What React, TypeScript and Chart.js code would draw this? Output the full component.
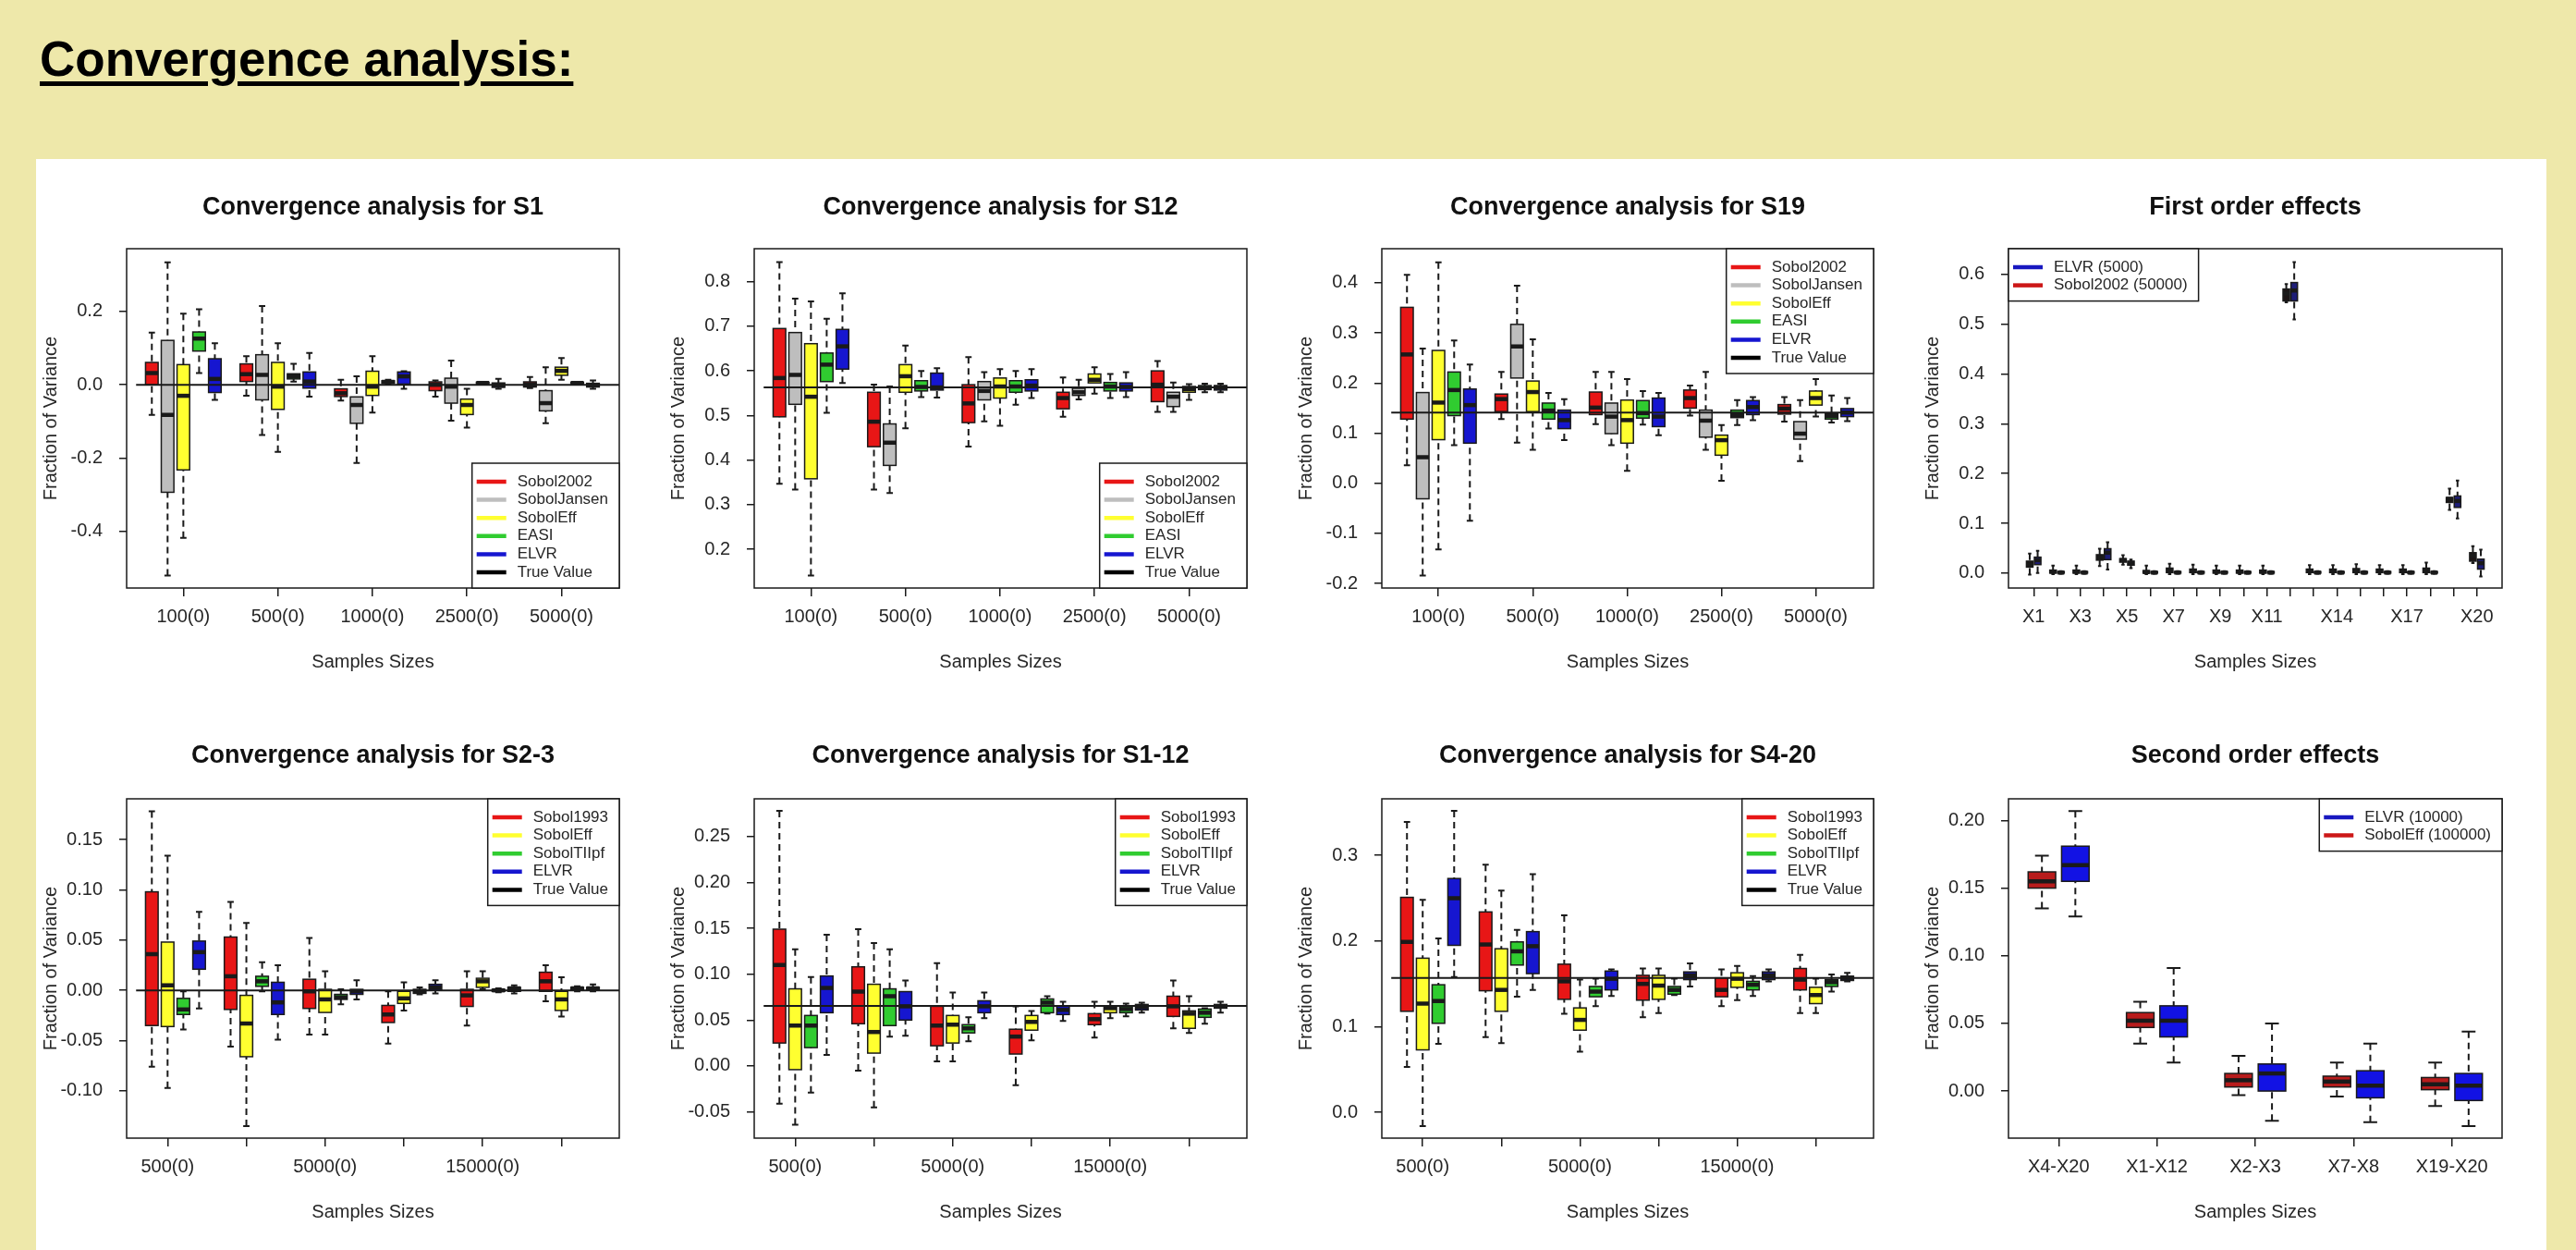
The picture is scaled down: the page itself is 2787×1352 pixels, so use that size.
import React, { useEffect, useRef } from "react";
import { Chart, registerables } from "chart.js";
Chart.register(...registerables);

const FONT = "'Liberation Sans', Arial, Helvetica, sans-serif";
const INK = "#1a1a1a";
const TXT = "#262626";

const RED = "#E81616";
const GRAY = "#BEBEBE";
const YELLOW = "#FFFF30";
const GREEN = "#30CC30";
const BLUE = "#1616D0";
const BLACK = "#000000";

// ---------- tick labels ----------
const TOP_X_LABELS = ["100(0)", "500(0)", "1000(0)", "2500(0)", "5000(0)"];
const BOTTOM_X_LABELS = ["500(0)", "", "5000(0)", "", "15000(0)", ""];
const FO_X_LABELS = ["X1", "", "X3", "", "X5", "", "X7", "", "X9", "", "X11", "", "", "X14", "", "", "X17", "", "", "X20"];
const SO_X_LABELS = ["X4-X20", "X1-X12", "X2-X3", "X7-X8", "X19-X20"];

const Y_S1 = [-0.4, -0.2, 0, 0.2];
const Y_S12 = [0.2, 0.3, 0.4, 0.5, 0.6, 0.7, 0.8];
const Y_S19 = [-0.2, -0.1, 0, 0.1, 0.2, 0.3, 0.4];
const Y_FO = [0, 0.1, 0.2, 0.3, 0.4, 0.5, 0.6];
const Y_S23 = [-0.1, -0.05, 0, 0.05, 0.1, 0.15];
const Y_S112 = [-0.05, 0, 0.05, 0.1, 0.15, 0.2, 0.25];
const Y_S420 = [0, 0.1, 0.2, 0.3];
const Y_SO = [0, 0.05, 0.1, 0.15, 0.2];

// ---------- box statistics [lower whisker, Q1, median, Q3, upper whisker] ----------
// S1 (true value 0)
const S1_TRUE = 0.0;
const S1_SOBOL2002 = [[-0.082, 0.0, 0.032, 0.061, 0.142], [-0.03, 0.009, 0.029, 0.057, 0.078], [-0.043, -0.032, -0.023, -0.011, 0.014], [-0.032, -0.016, 0.0, 0.008, 0.012], [-0.009, -0.006, 0.001, 0.008, 0.021]];
const S1_JANSEN = [[-0.52, -0.293, -0.082, 0.121, 0.334], [-0.137, -0.041, 0.027, 0.082, 0.215], [-0.213, -0.105, -0.055, -0.033, 0.023], [-0.098, -0.05, -0.005, 0.018, 0.066], [-0.105, -0.071, -0.05, -0.016, 0.048]];
const S1_EFF = [[-0.417, -0.232, -0.03, 0.055, 0.194], [-0.183, -0.067, -0.005, 0.061, 0.113], [-0.076, -0.029, -0.005, 0.037, 0.078], [-0.117, -0.081, -0.055, -0.039, -0.011], [0.014, 0.026, 0.038, 0.048, 0.073]];
const S1_EASI = [[0.032, 0.092, 0.126, 0.144, 0.206], [0.009, 0.016, 0.023, 0.03, 0.057], [0.002, 0.004, 0.008, 0.011, 0.014], [0.002, 0.003, 0.005, 0.007, 0.008], [0.002, 0.003, 0.005, 0.007, 0.008]];
const S1_ELVR = [[-0.041, -0.021, 0.016, 0.071, 0.113], [-0.032, -0.009, 0.009, 0.035, 0.087], [-0.011, 0.002, 0.023, 0.035, 0.037], [-0.011, -0.007, -0.001, 0.005, 0.016], [-0.011, -0.006, -0.001, 0.004, 0.012]];

// S12 (true value 0.563)
const S12_TRUE = 0.563;
const S12_SOBOL2002 = [[0.347, 0.497, 0.584, 0.695, 0.844], [0.334, 0.43, 0.486, 0.552, 0.569], [0.43, 0.484, 0.527, 0.569, 0.631], [0.497, 0.515, 0.539, 0.552, 0.585], [0.508, 0.531, 0.569, 0.6, 0.622]];
const S12_JANSEN = [[0.334, 0.525, 0.591, 0.686, 0.762], [0.326, 0.388, 0.439, 0.481, 0.565], [0.487, 0.535, 0.555, 0.576, 0.597], [0.536, 0.545, 0.552, 0.561, 0.58], [0.508, 0.52, 0.542, 0.552, 0.574]];
const S12_EFF = [[0.141, 0.358, 0.542, 0.661, 0.756], [0.471, 0.552, 0.588, 0.614, 0.657], [0.477, 0.539, 0.565, 0.584, 0.604], [0.549, 0.573, 0.58, 0.593, 0.608], [0.535, 0.552, 0.559, 0.565, 0.57]];
const S12_EASI = [[0.506, 0.576, 0.614, 0.64, 0.717], [0.541, 0.555, 0.564, 0.578, 0.6], [0.524, 0.552, 0.565, 0.578, 0.6], [0.539, 0.555, 0.565, 0.574, 0.593], [0.552, 0.558, 0.562, 0.567, 0.571]];
const S12_ELVR = [[0.573, 0.604, 0.655, 0.693, 0.774], [0.54, 0.557, 0.563, 0.595, 0.606], [0.539, 0.555, 0.567, 0.58, 0.604], [0.541, 0.555, 0.564, 0.573, 0.597], [0.552, 0.557, 0.563, 0.567, 0.571]];

// S19 (true value 0.141)
const S19_TRUE = 0.141;
const S19_SOBOL2002 = [[0.036, 0.128, 0.257, 0.351, 0.416], [0.128, 0.143, 0.168, 0.178, 0.222], [0.118, 0.137, 0.151, 0.182, 0.222], [0.135, 0.15, 0.17, 0.186, 0.195], [0.123, 0.138, 0.149, 0.157, 0.172]];
const S19_JANSEN = [[-0.184, -0.031, 0.052, 0.181, 0.269], [0.081, 0.21, 0.273, 0.317, 0.394], [0.076, 0.099, 0.133, 0.16, 0.222], [0.067, 0.092, 0.125, 0.146, 0.222], [0.044, 0.088, 0.099, 0.123, 0.166]];
const S19_EFF = [[-0.132, 0.087, 0.161, 0.265, 0.441], [0.067, 0.143, 0.182, 0.204, 0.287], [0.025, 0.08, 0.126, 0.166, 0.208], [0.005, 0.056, 0.086, 0.096, 0.116], [0.133, 0.156, 0.17, 0.184, 0.208]];
const S19_EASI = [[0.076, 0.135, 0.186, 0.222, 0.285], [0.109, 0.128, 0.145, 0.16, 0.18], [0.117, 0.13, 0.14, 0.165, 0.184], [0.116, 0.131, 0.136, 0.146, 0.166], [0.121, 0.128, 0.134, 0.139, 0.175]];
const S19_ELVR = [[-0.075, 0.08, 0.156, 0.188, 0.237], [0.086, 0.109, 0.126, 0.146, 0.168], [0.096, 0.113, 0.133, 0.17, 0.18], [0.126, 0.137, 0.152, 0.165, 0.172], [0.124, 0.133, 0.141, 0.149, 0.17]];

// First order effects X1..X20
const FO_SOBOL2002 = [
  [-0.003, 0.012, 0.017, 0.024, 0.039], [-0.002, 0.0, 0.003, 0.006, 0.015], [-0.002, 0.0, 0.003, 0.006, 0.015],
  [0.014, 0.026, 0.032, 0.037, 0.049], [0.017, 0.022, 0.026, 0.029, 0.036], [-0.002, 0.0, 0.002, 0.005, 0.015],
  [-0.002, 0.001, 0.005, 0.01, 0.019], [-0.002, 0.001, 0.004, 0.008, 0.017], [-0.002, 0.0, 0.003, 0.006, 0.015],
  [-0.002, 0.0, 0.003, 0.006, 0.015], [-0.002, 0.0, 0.003, 0.006, 0.015], [0.544, 0.547, 0.562, 0.571, 0.581],
  [-0.002, 0.001, 0.004, 0.008, 0.016], [-0.002, 0.001, 0.004, 0.008, 0.016], [-0.002, 0.001, 0.005, 0.009, 0.018],
  [-0.002, 0.001, 0.004, 0.008, 0.016], [-0.002, 0.001, 0.004, 0.008, 0.016], [-0.002, 0.001, 0.005, 0.01, 0.021],
  [0.127, 0.142, 0.149, 0.152, 0.17], [0.02, 0.024, 0.035, 0.041, 0.054],
];
const FO_ELVR = [
  [0.0, 0.017, 0.026, 0.032, 0.045], [-0.001, 0.0, 0.001, 0.003, 0.004], [-0.001, 0.0, 0.001, 0.003, 0.004],
  [0.007, 0.027, 0.041, 0.049, 0.062], [0.01, 0.016, 0.02, 0.024, 0.027], [-0.001, 0.0, 0.001, 0.003, 0.004],
  [-0.001, 0.0, 0.001, 0.003, 0.004], [-0.001, 0.0, 0.001, 0.003, 0.004], [-0.001, 0.0, 0.001, 0.003, 0.004],
  [-0.001, 0.0, 0.001, 0.003, 0.004], [-0.001, 0.0, 0.001, 0.003, 0.004], [0.51, 0.547, 0.568, 0.584, 0.625],
  [-0.001, 0.0, 0.001, 0.003, 0.004], [-0.001, 0.0, 0.001, 0.003, 0.004], [-0.001, 0.0, 0.001, 0.003, 0.004],
  [-0.001, 0.0, 0.001, 0.003, 0.004], [-0.001, 0.0, 0.001, 0.003, 0.004], [-0.001, 0.0, 0.001, 0.003, 0.004],
  [0.11, 0.132, 0.145, 0.155, 0.186], [-0.007, 0.008, 0.02, 0.028, 0.047],
];

// S2-3 (true value 0)
const S23_TRUE = 0.0;
const S23_SOBOL1993 = [[-0.076, -0.035, 0.036, 0.098, 0.178], [-0.056, -0.019, 0.014, 0.053, 0.088], [-0.044, -0.018, -0.001, 0.011, 0.052], [-0.053, -0.032, -0.024, -0.015, -0.001], [-0.035, -0.016, -0.005, 0.001, 0.019], [-0.011, -0.001, 0.009, 0.018, 0.025]];
const S23_EFF = [[-0.097, -0.036, 0.005, 0.048, 0.134], [-0.135, -0.066, -0.033, -0.005, 0.067], [-0.044, -0.022, -0.009, 0.001, 0.019], [-0.02, -0.013, -0.008, -0.001, 0.008], [0.001, 0.003, 0.009, 0.012, 0.019], [-0.026, -0.02, -0.009, -0.001, 0.013]];
const S23_TIIPF = [[-0.039, -0.024, -0.019, -0.008, -0.001], [-0.001, 0.004, 0.009, 0.014, 0.028], [-0.014, -0.009, -0.007, -0.004, 0.001], [-0.004, -0.003, -0.001, 0.001, 0.003], [-0.002, -0.001, 0.0, 0.001, 0.002], [-0.001, 0.0, 0.002, 0.003, 0.004]];
const S23_ELVR = [[-0.018, 0.021, 0.038, 0.049, 0.078], [-0.049, -0.024, -0.012, 0.008, 0.025], [-0.009, -0.004, -0.001, 0.001, 0.01], [-0.003, 0.0, 0.003, 0.006, 0.01], [-0.003, -0.001, 0.002, 0.003, 0.005], [-0.001, 0.0, 0.002, 0.003, 0.006]];

// S1-12 (true value 0.0655)
const S112_TRUE = 0.0655;
const S112_SOBOL1993 = [[-0.041, 0.025, 0.11, 0.149, 0.278], [-0.005, 0.046, 0.081, 0.108, 0.149], [0.005, 0.022, 0.044, 0.065, 0.112], [-0.021, 0.013, 0.032, 0.04, 0.065], [0.031, 0.045, 0.051, 0.057, 0.07], [0.041, 0.054, 0.065, 0.076, 0.093]];
const S112_EFF = [[-0.064, -0.004, 0.044, 0.084, 0.127], [-0.045, 0.014, 0.037, 0.089, 0.134], [0.005, 0.025, 0.045, 0.055, 0.08], [0.028, 0.039, 0.048, 0.055, 0.06], [0.052, 0.058, 0.063, 0.065, 0.07], [0.036, 0.041, 0.057, 0.06, 0.076]];
const S112_TIIPF = [[-0.029, 0.02, 0.044, 0.055, 0.097], [0.032, 0.044, 0.076, 0.084, 0.127], [0.027, 0.036, 0.041, 0.045, 0.053], [0.057, 0.058, 0.069, 0.073, 0.076], [0.054, 0.058, 0.062, 0.065, 0.068], [0.046, 0.053, 0.058, 0.062, 0.063]];
const S112_ELVR = [[0.012, 0.058, 0.085, 0.098, 0.143], [0.033, 0.05, 0.065, 0.081, 0.093], [0.052, 0.058, 0.065, 0.071, 0.08], [0.049, 0.056, 0.061, 0.065, 0.07], [0.058, 0.061, 0.064, 0.067, 0.069], [0.058, 0.063, 0.065, 0.067, 0.07]];

// S4-20 (true value 0.157)
const S420_TRUE = 0.157;
const S420_SOBOL1993 = [[0.053, 0.118, 0.199, 0.251, 0.339], [0.088, 0.142, 0.196, 0.234, 0.289], [0.115, 0.132, 0.153, 0.173, 0.23], [0.111, 0.131, 0.15, 0.16, 0.168], [0.124, 0.135, 0.143, 0.157, 0.167], [0.116, 0.143, 0.155, 0.168, 0.184]];
const S420_EFF = [[-0.016, 0.073, 0.127, 0.18, 0.248], [0.081, 0.118, 0.143, 0.191, 0.259], [0.071, 0.096, 0.108, 0.122, 0.155], [0.116, 0.132, 0.148, 0.16, 0.168], [0.131, 0.146, 0.156, 0.163, 0.171], [0.116, 0.127, 0.137, 0.146, 0.156]];
const S420_TIIPF = [[0.08, 0.104, 0.13, 0.149, 0.203], [0.135, 0.172, 0.188, 0.199, 0.213], [0.124, 0.135, 0.141, 0.147, 0.156], [0.137, 0.138, 0.143, 0.147, 0.156], [0.136, 0.143, 0.149, 0.153, 0.159], [0.141, 0.147, 0.152, 0.155, 0.161]];
const S420_ELVR = [[0.158, 0.195, 0.25, 0.273, 0.352], [0.143, 0.162, 0.194, 0.211, 0.278], [0.136, 0.143, 0.156, 0.165, 0.167], [0.147, 0.155, 0.16, 0.164, 0.174], [0.153, 0.155, 0.16, 0.164, 0.167], [0.153, 0.154, 0.157, 0.159, 0.163]];

// Second order effects
const SO_SOBOLEFF = [[0.135, 0.15, 0.155, 0.162, 0.174], [0.035, 0.047, 0.052, 0.058, 0.066], [-0.003, 0.003, 0.008, 0.013, 0.026], [-0.004, 0.003, 0.007, 0.011, 0.021], [-0.011, 0.001, 0.005, 0.01, 0.021]];
const SO_ELVR = [[0.129, 0.155, 0.167, 0.181, 0.207], [0.021, 0.04, 0.052, 0.063, 0.091], [-0.022, 0.0, 0.013, 0.02, 0.05], [-0.023, -0.005, 0.004, 0.015, 0.035], [-0.026, -0.007, 0.004, 0.013, 0.044]];

// ---------- layout helpers ----------
type Series = { label: string; color: string; stats: number[][]; positions: number[] };
type LegendItem = { label: string; color: string };
type PanelCfg = {
  title: string;
  plot: [number, number, number, number];
  titleGap: number;
  xMin: number; xMax: number; xTicks: number[]; xLabels: string[];
  yMin: number; yMax: number; yTicks: number[]; yDec: number;
  boxWidth: number;
  series: Series[];
  trueValue: number | null;
  legendCorner: "tl" | "tr" | "br";
  legend: LegendItem[];
};

const slots = (nGroups: number, perGroup: number, m: number) =>
  Array.from({ length: nGroups }, (_, g) => g * perGroup + m + 1);
const pairs = (n: number, off: number) => Array.from({ length: n }, (_, i) => i + 1 + off);

const TOP_TICKS = slots(5, 6, 2);
const BOTTOM_TICKS = slots(6, 5, 1);

const top5 = (a: number[][], b: number[][], c: number[][], d: number[][], e: number[][], names: string[]): Series[] => [
  { label: names[0], color: RED, stats: a, positions: slots(5, 6, 0) },
  { label: names[1], color: GRAY, stats: b, positions: slots(5, 6, 1) },
  { label: names[2], color: YELLOW, stats: c, positions: slots(5, 6, 2) },
  { label: names[3], color: GREEN, stats: d, positions: slots(5, 6, 3) },
  { label: names[4], color: BLUE, stats: e, positions: slots(5, 6, 4) },
];
const bottom4 = (a: number[][], b: number[][], c: number[][], d: number[][], names: string[]): Series[] => [
  { label: names[0], color: RED, stats: a, positions: slots(6, 5, 0) },
  { label: names[1], color: YELLOW, stats: b, positions: slots(6, 5, 1) },
  { label: names[2], color: GREEN, stats: c, positions: slots(6, 5, 2) },
  { label: names[3], color: BLUE, stats: d, positions: slots(6, 5, 3) },
];

const TOP_NAMES = ["Sobol2002", "SobolJansen", "SobolEff", "EASI", "ELVR"];
const BOT_NAMES = ["Sobol1993", "SobolEff", "SobolTIIpf", "ELVR"];
const TOP_LEGEND: LegendItem[] = [
  { label: "Sobol2002", color: RED }, { label: "SobolJansen", color: GRAY }, { label: "SobolEff", color: YELLOW },
  { label: "EASI", color: GREEN }, { label: "ELVR", color: BLUE }, { label: "True Value", color: BLACK },
];
const BOT_LEGEND: LegendItem[] = [
  { label: "Sobol1993", color: RED }, { label: "SobolEff", color: YELLOW }, { label: "SobolTIIpf", color: GREEN },
  { label: "ELVR", color: BLUE }, { label: "True Value", color: BLACK },
];

const CONV_X = { xMin: -0.6, xMax: 30.67, boxWidth: 0.8 };

const PANELS: PanelCfg[] = [
  {
    title: "Convergence analysis for S1", plot: [137, 269, 670, 636], titleGap: 44, ...CONV_X,
    xTicks: TOP_TICKS, xLabels: TOP_X_LABELS, yMin: -0.554, yMax: 0.371, yTicks: Y_S1, yDec: 1,
    series: top5(S1_SOBOL2002, S1_JANSEN, S1_EFF, S1_EASI, S1_ELVR, TOP_NAMES), trueValue: S1_TRUE,
    legendCorner: "br", legend: TOP_LEGEND,
  },
  {
    title: "Convergence analysis for S12", plot: [816, 269, 1349, 636], titleGap: 44, ...CONV_X,
    xTicks: TOP_TICKS, xLabels: TOP_X_LABELS, yMin: 0.113, yMax: 0.874, yTicks: Y_S12, yDec: 1,
    series: top5(S12_SOBOL2002, S12_JANSEN, S12_EFF, S12_EASI, S12_ELVR, TOP_NAMES), trueValue: S12_TRUE,
    legendCorner: "br", legend: TOP_LEGEND,
  },
  {
    title: "Convergence analysis for S19", plot: [1495, 269, 2027, 636], titleGap: 44, ...CONV_X,
    xTicks: TOP_TICKS, xLabels: TOP_X_LABELS, yMin: -0.209, yMax: 0.468, yTicks: Y_S19, yDec: 1,
    series: top5(S19_SOBOL2002, S19_JANSEN, S19_EFF, S19_EASI, S19_ELVR, TOP_NAMES), trueValue: S19_TRUE,
    legendCorner: "tr", legend: TOP_LEGEND,
  },
  {
    title: "First order effects", plot: [2173, 269, 2707, 636], titleGap: 44,
    xMin: -0.08, xMax: 21.08, boxWidth: 0.28, xTicks: pairs(20, 0), xLabels: FO_X_LABELS,
    yMin: -0.03, yMax: 0.652, yTicks: Y_FO, yDec: 1,
    series: [
      { label: "Sobol2002 (50000)", color: "#1c1414", stats: FO_SOBOL2002, positions: pairs(20, -0.17) },
      { label: "ELVR (5000)", color: "#1e1e78", stats: FO_ELVR, positions: pairs(20, 0.17) },
    ],
    trueValue: null, legendCorner: "tl",
    legend: [{ label: "ELVR (5000)", color: "#1818C0" }, { label: "Sobol2002 (50000)", color: "#CC1818" }],
  },
  {
    title: "Convergence analysis for S2-3", plot: [137, 864, 670, 1231], titleGap: 46, ...CONV_X,
    xTicks: BOTTOM_TICKS, xLabels: BOTTOM_X_LABELS, yMin: -0.147, yMax: 0.1905, yTicks: Y_S23, yDec: 2,
    series: bottom4(S23_SOBOL1993, S23_EFF, S23_TIIPF, S23_ELVR, BOT_NAMES), trueValue: S23_TRUE,
    legendCorner: "tr", legend: BOT_LEGEND,
  },
  {
    title: "Convergence analysis for S1-12", plot: [816, 864, 1349, 1231], titleGap: 46, ...CONV_X,
    xTicks: BOTTOM_TICKS, xLabels: BOTTOM_X_LABELS, yMin: -0.0786, yMax: 0.291, yTicks: Y_S112, yDec: 2,
    series: bottom4(S112_SOBOL1993, S112_EFF, S112_TIIPF, S112_ELVR, BOT_NAMES), trueValue: S112_TRUE,
    legendCorner: "tr", legend: BOT_LEGEND,
  },
  {
    title: "Convergence analysis for S4-20", plot: [1495, 864, 2027, 1231], titleGap: 46, ...CONV_X,
    xTicks: BOTTOM_TICKS, xLabels: BOTTOM_X_LABELS, yMin: -0.03, yMax: 0.366, yTicks: Y_S420, yDec: 1,
    series: bottom4(S420_SOBOL1993, S420_EFF, S420_TIIPF, S420_ELVR, BOT_NAMES), trueValue: S420_TRUE,
    legendCorner: "tr", legend: BOT_LEGEND,
  },
  {
    title: "Second order effects", plot: [2173, 864, 2707, 1231], titleGap: 46,
    xMin: 0.49, xMax: 5.51, boxWidth: 0.28, xTicks: pairs(5, 0), xLabels: SO_X_LABELS,
    yMin: -0.0348, yMax: 0.216, yTicks: Y_SO, yDec: 2,
    series: [
      { label: "SobolEff (100000)", color: "#B81C1C", stats: SO_SOBOLEFF, positions: pairs(5, -0.17) },
      { label: "ELVR (10000)", color: "#1212E4", stats: SO_ELVR, positions: pairs(5, 0.17) },
    ],
    trueValue: null, legendCorner: "tr",
    legend: [{ label: "ELVR (10000)", color: "#1818C0" }, { label: "SobolEff (100000)", color: "#CC1818" }],
  },
];

const TITLE_BLOCK = 80;
const X_AXIS_H = 110;
const Y_AXIS_W = 110;
const SIDE_PAD = 10;

function makeBoxPlugin(cfg: PanelCfg) {
  return {
    id: "boxplots",
    afterDatasetsDraw(chart: any) {
      const { ctx, chartArea: ca } = chart;
      const x = chart.scales.x;
      const y = chart.scales.y;
      const bw = cfg.boxWidth;
      ctx.save();
      ctx.beginPath();
      ctx.rect(ca.left, ca.top, ca.right - ca.left, ca.bottom - ca.top);
      ctx.clip();
      chart.data.datasets.forEach((ds: any) => {
        ds.data.forEach((pt: any, i: number) => {
          const s = ds.stats[i];
          const xc = x.getPixelForValue(pt.x);
          const xl = x.getPixelForValue(pt.x - bw / 2);
          const xr = x.getPixelForValue(pt.x + bw / 2);
          const cl = x.getPixelForValue(pt.x - bw / 4);
          const cr = x.getPixelForValue(pt.x + bw / 4);
          const [yLo, yQ1, yMed, yQ3, yHi] = s.map((v: number) => y.getPixelForValue(v));
          // whiskers
          ctx.strokeStyle = INK;
          ctx.lineWidth = 2;
          ctx.setLineDash([7, 5]);
          ctx.beginPath();
          ctx.moveTo(xc, yLo); ctx.lineTo(xc, yQ1);
          ctx.moveTo(xc, yHi); ctx.lineTo(xc, yQ3);
          ctx.stroke();
          ctx.setLineDash([]);
          ctx.beginPath();
          ctx.moveTo(cl, yLo); ctx.lineTo(cr, yLo);
          ctx.moveTo(cl, yHi); ctx.lineTo(cr, yHi);
          ctx.stroke();
          // box
          ctx.fillStyle = ds.boxColor;
          ctx.fillRect(xl, yQ3, xr - xl, yQ1 - yQ3);
          ctx.lineWidth = 1.5;
          ctx.strokeRect(xl, yQ3, xr - xl, yQ1 - yQ3);
          // median
          ctx.lineWidth = 4.5;
          ctx.beginPath();
          ctx.moveTo(xl, yMed); ctx.lineTo(xr, yMed);
          ctx.stroke();
        });
      });
      if (cfg.trueValue !== null) {
        const yy = y.getPixelForValue(cfg.trueValue);
        ctx.strokeStyle = INK;
        ctx.lineWidth = 2;
        ctx.beginPath();
        ctx.moveTo(x.getPixelForValue(0), yy);
        ctx.lineTo(ca.right, yy);
        ctx.stroke();
      }
      ctx.restore();

      // frame
      ctx.save();
      ctx.strokeStyle = INK;
      ctx.lineWidth = 1.5;
      ctx.strokeRect(ca.left, ca.top, ca.right - ca.left, ca.bottom - ca.top);

      // legend
      ctx.font = `17px ${FONT}`;
      const maxW = Math.max(...cfg.legend.map((it) => ctx.measureText(it.label).width));
      const lw = 49 + maxW + 12;
      const lh = 20 + (cfg.legend.length - 1) * 19.6 + 17;
      const lx = cfg.legendCorner === "tl" ? ca.left : ca.right - lw;
      const ly = cfg.legendCorner === "br" ? ca.bottom - lh : ca.top;
      ctx.fillStyle = "#ffffff";
      ctx.fillRect(lx, ly, lw, lh);
      ctx.strokeRect(lx, ly, lw, lh);
      cfg.legend.forEach((it, i) => {
        const iy = ly + 20 + i * 19.6;
        ctx.strokeStyle = it.color;
        ctx.lineWidth = 4.5;
        ctx.beginPath();
        ctx.moveTo(lx + 5, iy); ctx.lineTo(lx + 37, iy);
        ctx.stroke();
        ctx.fillStyle = TXT;
        ctx.textBaseline = "middle";
        ctx.textAlign = "left";
        ctx.fillText(it.label, lx + 49, iy);
      });
      ctx.restore();
    },
  };
}

function Panel({ cfg }: { cfg: PanelCfg }) {
  const ref = useRef<HTMLCanvasElement | null>(null);
  const [L, T, R, B] = cfg.plot;
  const left = L - Y_AXIS_W - SIDE_PAD;
  const top = T - TITLE_BLOCK;
  const width = R - L + 2 * (Y_AXIS_W + SIDE_PAD);
  const height = TITLE_BLOCK + (B - T) + X_AXIS_H;

  useEffect(() => {
    if (!ref.current) return;
    const titleLine = 27 * 1.2;
    const padTop = TITLE_BLOCK - cfg.titleGap - titleLine / 2;
    const tickFont = { family: FONT, size: 20 };
    const chart = new Chart(ref.current, {
      type: "scatter",
      data: {
        datasets: cfg.series.map((s) => ({
          label: s.label,
          data: s.positions.map((px, i) => ({ x: px, y: s.stats[i][2] })),
          stats: s.stats,
          boxColor: s.color,
          pointRadius: 0,
          pointHoverRadius: 0,
          showLine: false,
        })) as any,
      },
      options: {
        animation: false,
        responsive: false,
        maintainAspectRatio: false,
        events: [],
        layout: { padding: { left: SIDE_PAD, right: SIDE_PAD, top: 0, bottom: 0 }, autoPadding: false },
        plugins: {
          legend: { display: false },
          tooltip: { enabled: false },
          title: {
            display: true,
            text: cfg.title,
            color: "#111111",
            font: { family: FONT, size: 27, weight: "bold" },
            padding: { top: padTop, bottom: TITLE_BLOCK - padTop - titleLine },
          },
        },
        scales: {
          x: {
            type: "linear",
            min: cfg.xMin,
            max: cfg.xMax,
            bounds: "data",
            afterBuildTicks: (ax: any) => {
              ax.ticks = cfg.xTicks.map((v) => ({ value: v }));
            },
            afterFit: (s: any) => {
              s.height = X_AXIS_H;
            },
            ticks: {
              autoSkip: false,
              maxRotation: 0,
              minRotation: 0,
              padding: 10,
              color: TXT,
              font: tickFont,
              callback: (v: any) => {
                const j = cfg.xTicks.findIndex((t) => Math.abs(t - Number(v)) < 1e-9);
                return j >= 0 ? cfg.xLabels[j] : "";
              },
            },
            grid: { display: true, drawOnChartArea: false, drawTicks: true, tickLength: 9, color: INK, lineWidth: 1.5 },
            border: { display: false },
            title: { display: true, text: "Samples Sizes", color: TXT, font: tickFont, padding: { top: 0, bottom: 18 } },
          },
          y: {
            type: "linear",
            position: "left",
            min: cfg.yMin,
            max: cfg.yMax,
            bounds: "data",
            afterBuildTicks: (ax: any) => {
              ax.ticks = cfg.yTicks.map((v) => ({ value: v }));
            },
            afterFit: (s: any) => {
              s.width = Y_AXIS_W;
            },
            ticks: {
              autoSkip: false,
              padding: 18,
              color: TXT,
              font: tickFont,
              callback: (v: any) => Number(v).toFixed(cfg.yDec),
            },
            grid: { display: true, drawOnChartArea: false, drawTicks: true, tickLength: 8, color: INK, lineWidth: 1.5 },
            border: { display: false },
            title: { display: true, text: "Fraction of Variance", color: TXT, font: tickFont, padding: { top: 16, bottom: 0 } },
          },
          y2: {
            type: "linear",
            position: "right",
            display: true,
            afterFit: (s: any) => {
              s.width = Y_AXIS_W;
            },
            ticks: { display: false },
            grid: { display: false },
            border: { display: false },
          },
        },
      } as any,
      plugins: [makeBoxPlugin(cfg)],
    });
    return () => chart.destroy();
  }, [cfg]);

  return (
    <canvas
      ref={ref}
      width={width}
      height={height}
      style={{ position: "absolute", left, top, width, height }}
    />
  );
}

export default function App() {
  return (
    <div
      style={{
        position: "absolute",
        left: 0,
        top: 0,
        width: 2787,
        height: 1352,
        overflow: "hidden",
        background: "#EEE8AA",
        fontFamily: FONT,
      }}
    >
      <div
        style={{
          position: "absolute",
          left: 43,
          top: 34,
          fontSize: 53,
          lineHeight: "60px",
          fontWeight: "bold",
          color: "#000",
          whiteSpace: "nowrap",
          textDecoration: "underline",
          textDecorationThickness: "5px",
          textUnderlineOffset: "6px",
        }}
      >
        Convergence analysis:
      </div>
      <div style={{ position: "absolute", left: 39, top: 172, width: 2716, height: 1180, background: "#ffffff" }} />
      {PANELS.map((p) => (
        <Panel key={p.title} cfg={p} />
      ))}
    </div>
  );
}
